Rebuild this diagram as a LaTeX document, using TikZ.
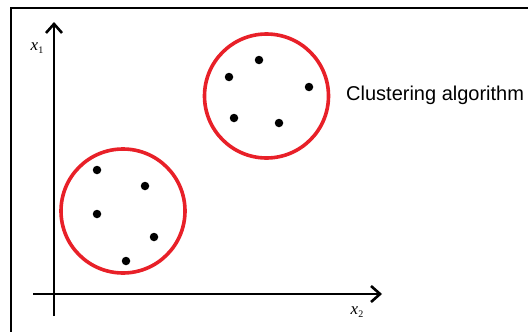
\documentclass[tikz,border=0pt]{standalone}
\usepackage{fontspec}
\setmainfont{Liberation Serif}
\newfontfamily\labelfont{Liberation Sans}
\usetikzlibrary{arrows.meta}
\definecolor{clred}{RGB}{232,32,40}
\tikzset{
  pt/.style={circle,fill=black,inner sep=0pt,minimum size=8.5pt},
  cluster/.style={circle,draw=clred,line width=3.6pt,inner sep=0pt,minimum size=#1},
  axis/.style={line width=1.6pt,-{Straight Barb[length=9pt,width=16pt,line width=2.6pt]}},
  frame/.style={line width=1.6pt}
}
\begin{document}
\begin{tikzpicture}[x=1pt,y=-1pt]
\useasboundingbox (0,0) rectangle (528,332);
% frame
\coordinate (f1) at (11,332);
\coordinate (f2) at (11,8);
\coordinate (f3) at (528,8);
\draw[frame] (f1) -- (f2) -- (f3);
% axes
\coordinate (vb) at (54,316);
\coordinate (vt) at (54,22);
\coordinate (hl) at (33,294);
\coordinate (hr) at (382,294);
\draw[axis] (vb) -- (vt);
\draw[axis] (hl) -- (hr);
\node (x1) at (37,48) {\fontsize{17}{17}\selectfont\itshape x\raisebox{-3.5pt}{\fontsize{10}{10}\selectfont\upshape 1}};
\node (x2) at (357,312) {\fontsize{17}{17}\selectfont\itshape x\raisebox{-3.5pt}{\fontsize{10}{10}\selectfont\upshape 2}};
% clusters
\node[cluster=124pt] (c1) at (266.5,96) {};
\node[cluster=124pt] (c2) at (123,211) {};
% points upper
\node[pt] (a1) at (259,60) {};
\node[pt] (a2) at (229,77) {};
\node[pt] (a3) at (309,87) {};
\node[pt] (a4) at (234,118) {};
\node[pt] (a5) at (279,123) {};
% points lower
\node[pt] (b1) at (97,170) {};
\node[pt] (b2) at (145,186) {};
\node[pt] (b3) at (97,214) {};
\node[pt] (b4) at (154,237) {};
\node[pt] (b5) at (126,261) {};
% label
\node[anchor=west,inner sep=0pt] (lab) at (346,95) {\labelfont\fontsize{20}{22}\selectfont Clustering algorithm};
\end{tikzpicture}
\end{document}
